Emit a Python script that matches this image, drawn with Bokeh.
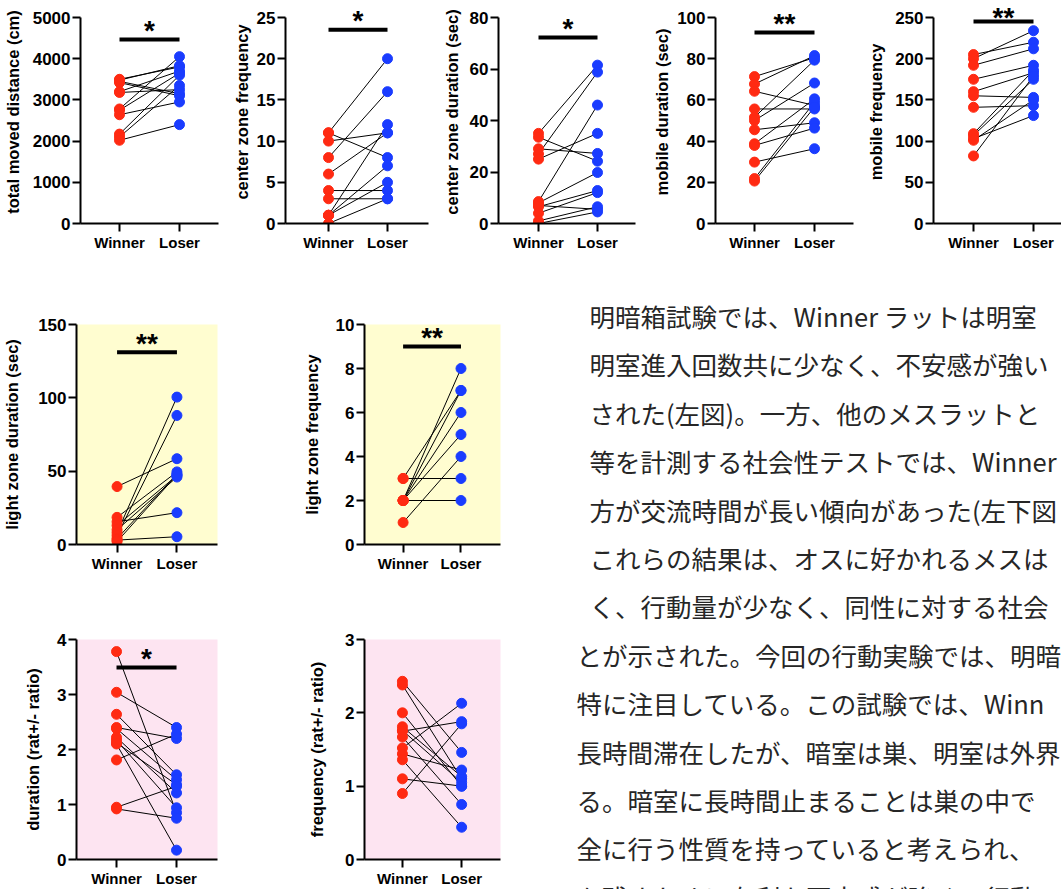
from bokeh.plotting import figure
from bokeh.layouts import row, column
from bokeh.models import Range1d, FixedTicker, ColumnDataSource
from bokeh.embed import file_html
from bokeh.resources import INLINE
from bokeh.core.properties import value

GROUPS = ["Winner", "Loser"]

# ---------------- data ----------------
dist_label = "total moved distance (cm)"
dist_winner = [3500, 3450, 3420, 3200, 3180, 2780, 2750, 2640, 2170, 2100, 2020, 3480]
dist_loser = [3800, 3150, 3100, 3700, 3250, 4050, 3650, 2950, 3600, 3350, 2400, 3830]
dist_ticks = [0, 1000, 2000, 3000, 4000, 5000]
dist_sig, dist_sig_y = "*", 4466

czf_label = "center zone frequency"
czf_winner = [11, 11, 10, 8, 6, 4, 3, 1, 1, 1, 0]
czf_loser = [20, 8, 11, 16, 11, 4, 3, 12, 7, 5, 3]
czf_ticks = [0, 5, 10, 15, 20, 25]
czf_sig, czf_sig_y = "*", 23.5

czd_label = "center zone duration (sec)"
czd_winner = [35, 33.5, 29, 27, 25, 8.5, 8, 7, 6.5, 4, 1, 0]
czd_loser = [61.5, 24.2, 27.2, 58.8, 35, 46, 19.8, 5.5, 12.8, 12, 6.5, 4.5]
czd_ticks = [0, 20, 40, 60, 80]
czd_sig, czd_sig_y = "*", 72.2

mobd_label = "mobile duration (sec)"
mobd_winner = [71.3, 67.7, 64.2, 55.6, 51.6, 50, 45.5, 38.7, 37.9, 29.8, 21.8, 20.6]
mobd_loser = [80.5, 81.5, 57.3, 55.6, 79.3, 68.2, 48.9, 60.5, 46.3, 36.3, 58.9, 56.5]
mobd_ticks = [0, 20, 40, 60, 80, 100]
mobd_sig, mobd_sig_y = "**", 92.7

mobf_label = "mobile frequency"
mobf_winner = [205, 200, 192, 175, 160, 155, 141, 109, 107, 103, 101, 82]
mobf_loser = [220, 234, 212, 192, 183, 153, 143, 186, 175, 131, 150, 179]
mobf_ticks = [0, 50, 100, 150, 200, 250]
mobf_sig, mobf_sig_y = "**", 245

lzd_label = "light zone duration (sec)"
lzd_winner = [39.5, 18.5, 15.5, 13, 10, 8, 6, 4, 3, 2]
lzd_loser = [58.5, 49.5, 21.7, 47, 46, 100.5, 88, 48, 5.3, 47.5]
lzd_ticks = [0, 50, 100, 150]
lzd_sig, lzd_sig_y = "**", 131

lzf_label = "light zone frequency"
lzf_winner = [3, 3, 2, 2, 2, 2, 2, 1]
lzf_loser = [3, 7, 8, 7, 6, 5, 2, 4]
lzf_ticks = [0, 2, 4, 6, 8, 10]
lzf_sig, lzf_sig_y = "**", 9.0

durr_label = "duration (rat+/- ratio)"
durr_winner = [3.78, 3.04, 2.64, 2.40, 2.38, 2.22, 2.17, 2.10, 2.12, 1.81, 0.95, 0.92]
durr_loser = [0.85, 2.40, 1.54, 2.20, 1.45, 1.21, 0.94, 0.17, 1.36, 2.28, 1.33, 0.75]
durr_ticks = [0, 1, 2, 3, 4]
durr_sig, durr_sig_y = "*", 3.49

frqr_label = "frequency (rat+/- ratio)"
frqr_winner = [2.43, 2.38, 2.00, 1.81, 1.76, 1.67, 1.52, 1.44, 1.36, 1.10, 0.90, 1.75]
frqr_loser = [1.46, 1.10, 1.00, 1.13, 1.05, 0.75, 2.13, 1.22, 0.44, 1.00, 1.85, 1.88]
frqr_ticks = [0, 1, 2, 3]

text_lines = [
    "明暗箱試験では、Winner ラットは明室",
    "明室進入回数共に少なく、不安感が強い",
    "された(左図)。一方、他のメスラットと",
    "等を計測する社会性テストでは、Winner",
    "方が交流時間が長い傾向があった(左下図",
    "これらの結果は、オスに好かれるメスは",
    "く、行動量が少なく、同性に対する社会",
    "とが示された。今回の行動実験では、明暗",
    "特に注目している。この試験では、Winn",
    "長時間滞在したが、暗室は巣、明室は外界",
    "る。暗室に長時間止まることは巣の中で",
    "全に行う性質を持っていると考えられ、",
    "を残すために有利な不安感が強く、行動",
]

# ---------------- styling ----------------
RED = "#FF2A12"
BLUE = "#1A3CFF"
YELLOW = "#FFFDD0"
PINK = "#FDE4F1"
FONT = "Liberation Sans"


def panel(geo, ylabel, w_vals, l_vals, ymax, yticks, sig=None, sig_y=None, bg="white"):
    fl, ft, fw, fh = geo["fig"]
    ax_x, fr_x = geo["ax"], geo["fr"]
    f_top, f_bot, y_top = geo["ftop"], geo["fbot"], geo["ytop"]
    wx, lx = geo["wx"], geo["lx"]
    k = (f_bot - y_top) / ymax
    y_end = (f_bot - f_top) / k
    s = lx - wx
    x0 = 1 - (wx - ax_x) / s
    x1 = 1 + (fr_x - wx) / s
    p = figure(width=fw, height=fh, x_range=Range1d(x0, x1), y_range=Range1d(0, y_end),
               output_backend="svg", toolbar_location=None,
               min_border_left=ax_x - fl, min_border_right=fl + fw - fr_x,
               min_border_top=f_top - ft, min_border_bottom=ft + fh - f_bot)
    p.background_fill_color = bg
    p.border_fill_color = "white"
    p.outline_line_color = None
    p.xgrid.visible = False
    p.ygrid.visible = False
    for a in (p.xaxis[0], p.yaxis[0]):
        a.axis_line_width = 2
        a.axis_line_color = "black"
        a.major_tick_line_width = 2
        a.major_tick_line_color = "black"
        a.major_tick_out = 8
        a.major_tick_in = 0
        a.minor_tick_line_color = None
        a.major_label_text_font = FONT
        a.major_label_text_font_style = "bold"
        a.major_label_text_color = "black"
        a.major_label_standoff = 2
    p.yaxis.major_label_text_font_size = "17px"
    p.xaxis.major_label_text_font_size = "15px"
    p.xaxis.ticker = FixedTicker(ticks=[1, 2])
    p.xaxis.major_label_overrides = {1: GROUPS[0], 2: GROUPS[1]}
    p.yaxis.ticker = FixedTicker(ticks=yticks)
    p.yaxis.bounds = (0, ymax)
    p.yaxis.axis_label = ylabel
    p.yaxis.axis_label_text_font = FONT
    p.yaxis.axis_label_text_font_style = "bold"
    p.yaxis.axis_label_text_font_size = "16.5px"
    p.yaxis.axis_label_text_color = "black"
    p.yaxis.axis_label_standoff = int(geo["lab_s"])

    src = ColumnDataSource(dict(xw=[1] * len(w_vals), xl=[2] * len(l_vals), w=w_vals, l=l_vals))
    p.segment(x0="xw", y0="w", x1="xl", y1="l", source=src, line_color="black", line_width=1)
    p.scatter(x="xw", y="w", source=src, size=10, fill_color=RED, line_color=RED)
    p.scatter(x="xl", y="l", source=src, size=10, fill_color=BLUE, line_color=BLUE)
    if sig is not None:
        p.segment(x0=[1], y0=[sig_y], x1=[2], y1=[sig_y], line_color="black", line_width=4)
        p.text(x=[1.5], y=[sig_y], text=[sig], text_align="center", text_baseline="alphabetic",
               y_offset=geo.get("star_off", -9), text_font=value(FONT), text_font_style="bold",
               text_font_size="28px", text_color="black")
    return p


R1 = dict(ftop=0, fbot=223, ytop=17)
g1 = dict(fig=(0, 0, 222, 290), ax=80, fr=218, wx=119, lx=179, lab_s=8, **R1)
g2 = dict(fig=(222, 0, 208, 290), ax=285, fr=428, wx=328, lx=387, lab_s=3, **R1)
g3 = dict(fig=(430, 0, 210, 290), ax=498, fr=635, wx=538, lx=597, lab_s=6, **R1)
g4 = dict(fig=(640, 0, 218, 290), ax=715, fr=853, wx=754, lx=814, lab_s=3, **R1)
g5 = dict(fig=(858, 0, 203, 290), ax=933, fr=1061, wx=973, lx=1033, lab_s=7, star_off=-4, **R1)
R2 = dict(ftop=324, fbot=544, ytop=324)
g6 = dict(fig=(0, 290, 290, 300), ax=76, fr=222, wx=118, lx=180, lab_s=14, **R2)
g7 = dict(fig=(290, 290, 270, 300), ax=364, fr=512, wx=406, lx=469, lab_s=12, **R2)
R3 = dict(ftop=639, fbot=860, ytop=639)
g8 = dict(fig=(0, 590, 290, 299), ax=69, fr=217, wx=111, lx=174, lab_s=12, **R3)
g9 = dict(fig=(290, 590, 270, 299), ax=353, fr=500, wx=394, lx=458, lab_s=16, **R3)

p1 = panel(g1, dist_label, dist_winner, dist_loser, 5000, dist_ticks, dist_sig, dist_sig_y)
p2 = panel(g2, czf_label, czf_winner, czf_loser, 25, czf_ticks, czf_sig, czf_sig_y)
p3 = panel(g3, czd_label, czd_winner, czd_loser, 80, czd_ticks, czd_sig, czd_sig_y)
p4 = panel(g4, mobd_label, mobd_winner, mobd_loser, 100, mobd_ticks, mobd_sig, mobd_sig_y)
p5 = panel(g5, mobf_label, mobf_winner, mobf_loser, 250, mobf_ticks, mobf_sig, mobf_sig_y)
p6 = panel(g6, lzd_label, lzd_winner, lzd_loser, 150, lzd_ticks, lzd_sig, lzd_sig_y, bg=YELLOW)
p7 = panel(g7, lzf_label, lzf_winner, lzf_loser, 10, lzf_ticks, lzf_sig, lzf_sig_y, bg=YELLOW)
p8 = panel(g8, durr_label, durr_winner, durr_loser, 4, durr_ticks, durr_sig, durr_sig_y, bg=PINK)
p9 = panel(g9, frqr_label, frqr_winner, frqr_loser, 3, frqr_ticks, bg=PINK)

# ---------------- text block ----------------
TW, TH = 501, 599
pt = figure(width=TW, height=TH, x_range=Range1d(0, TW), y_range=Range1d(TH, 0),
            output_backend="svg", toolbar_location=None, min_border=0)
pt.axis.visible = False
pt.xgrid.visible = False
pt.ygrid.visible = False
pt.outline_line_color = None
pt.background_fill_color = "white"
tx = [29 if i < 7 else 16 for i in range(len(text_lines))]
ty = [25 + i * 48.4 for i in range(len(text_lines))]
pt.text(x=tx, y=ty, text=text_lines, text_font=value("Noto Sans CJK JP"),
        text_font_size="25.5px", text_baseline="middle", text_align="left", text_color="#262626")

layout = column(
    row(p1, p2, p3, p4, p5, spacing=0),
    row(column(p6, p8, spacing=0), column(p7, p9, spacing=0), pt, spacing=0),
    spacing=0,
)

open("out.html", "w").write(file_html(layout, INLINE))
